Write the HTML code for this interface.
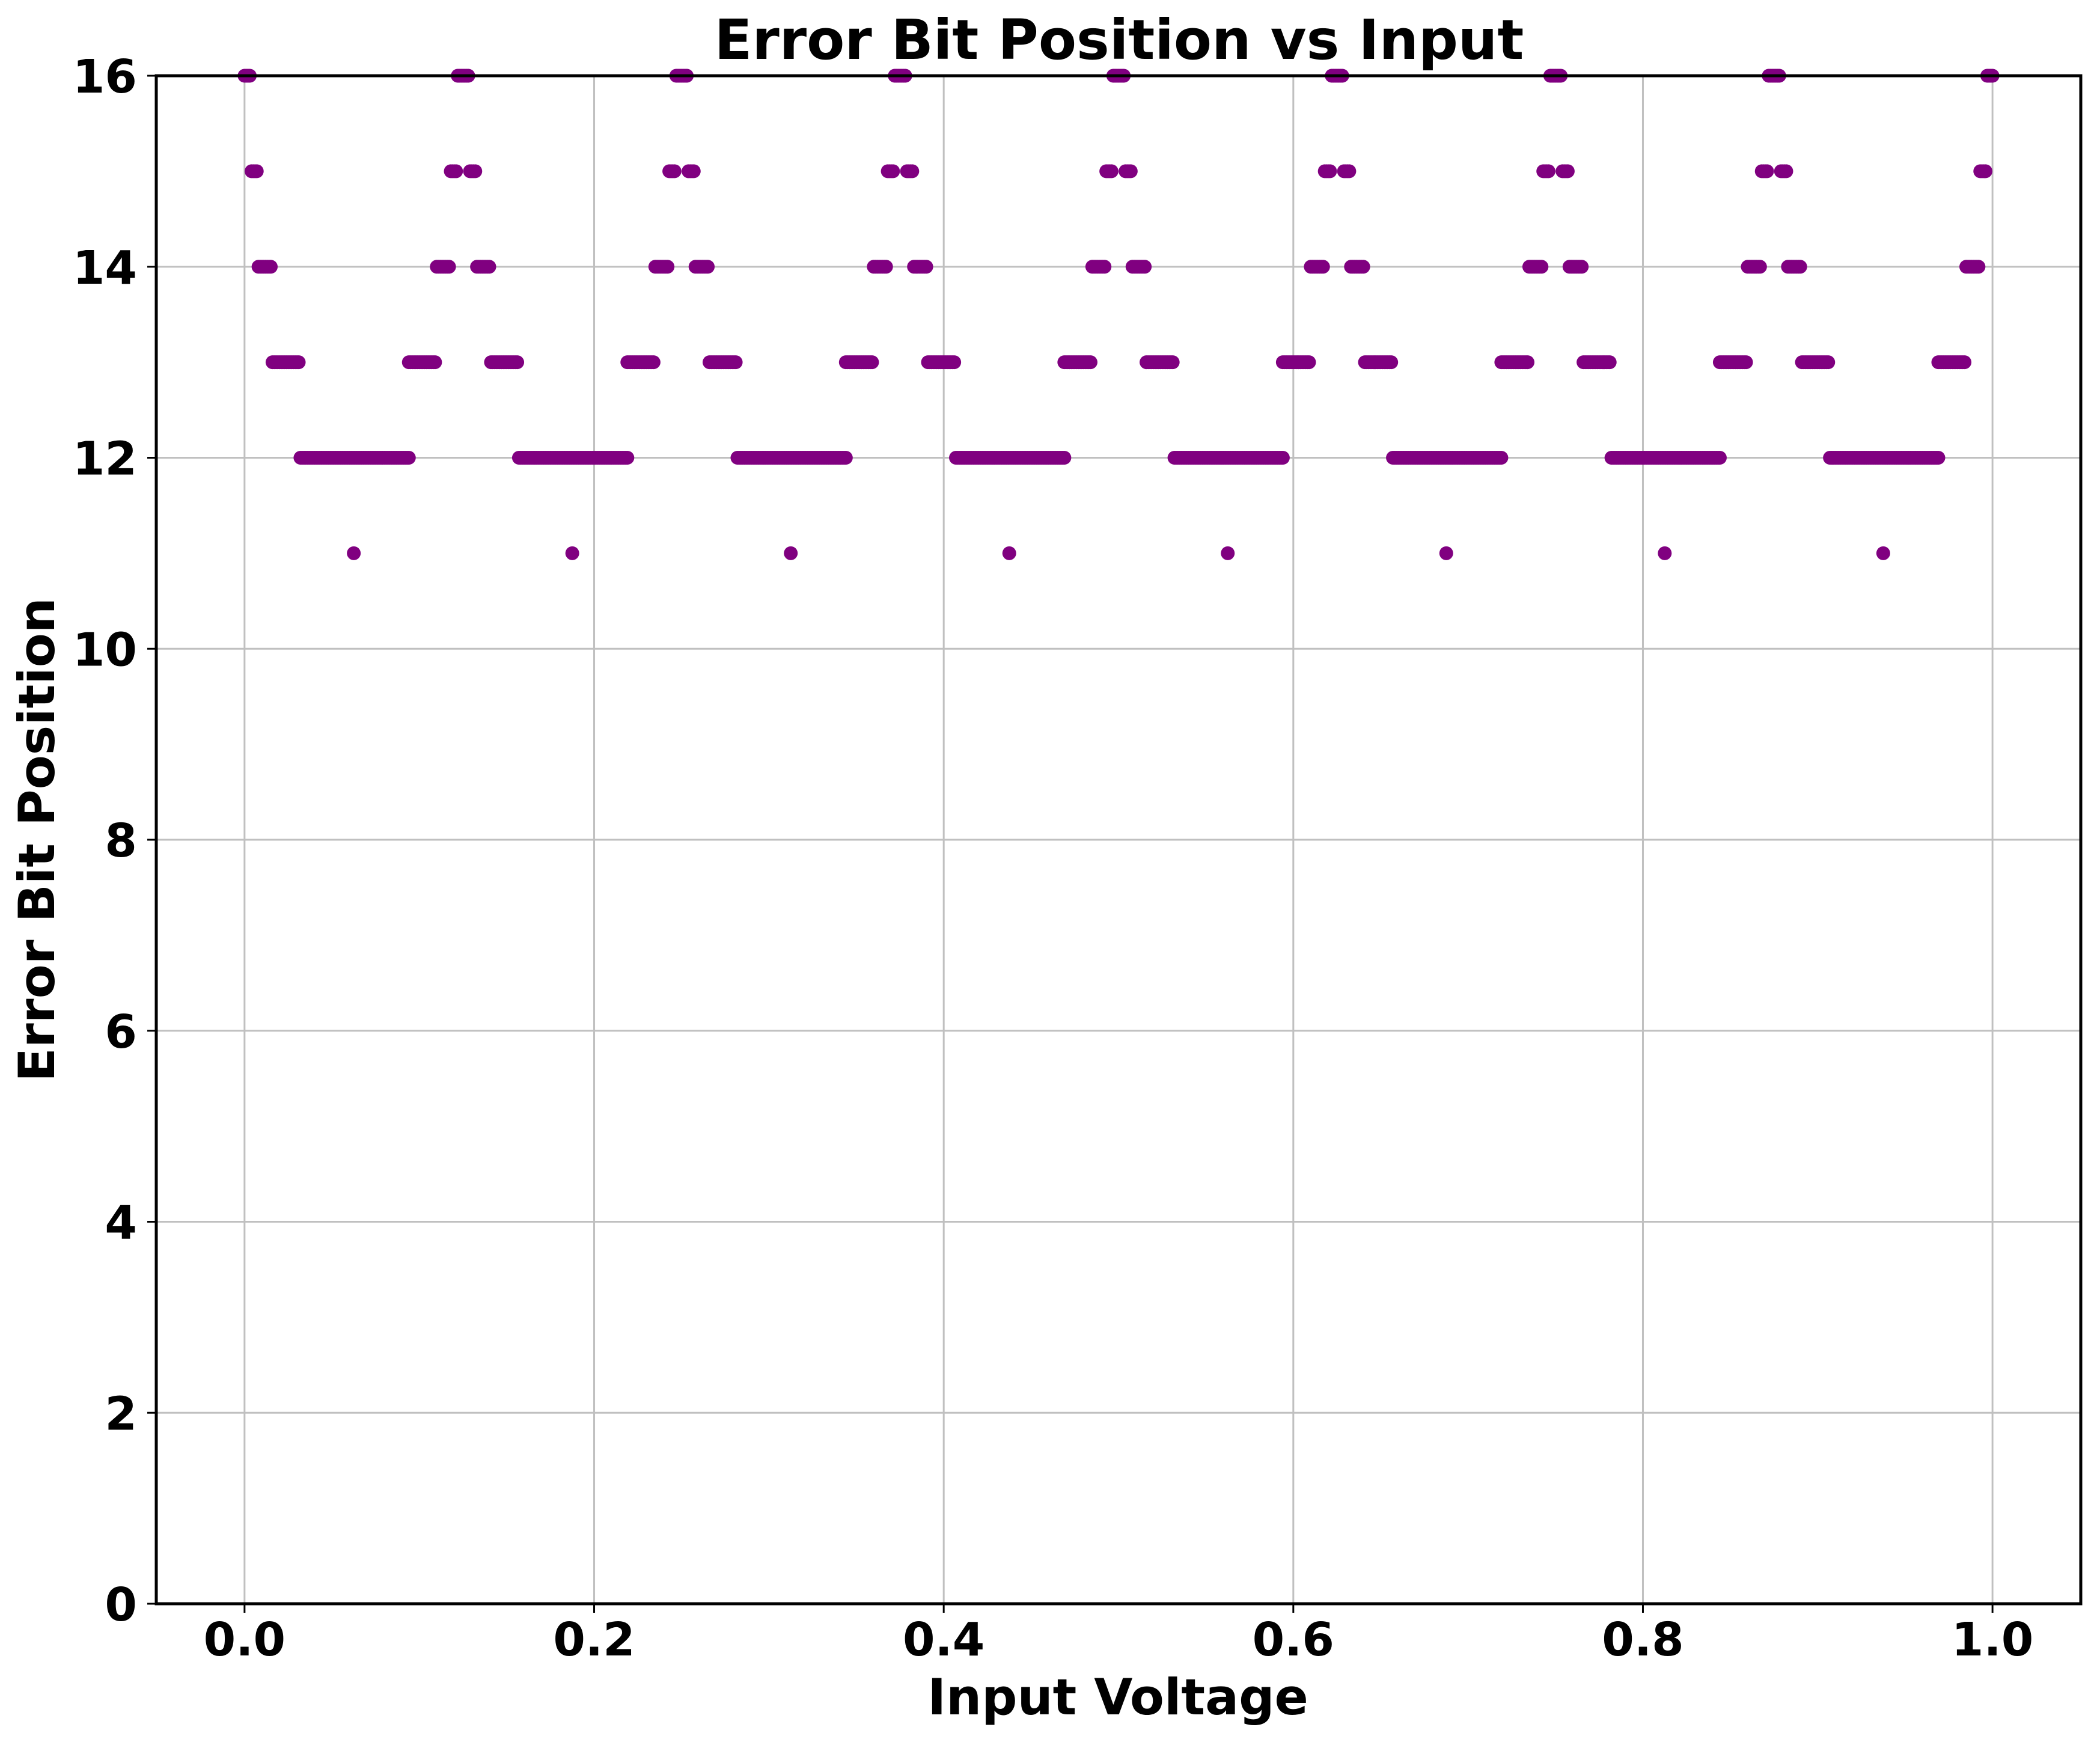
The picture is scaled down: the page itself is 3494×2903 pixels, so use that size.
<!DOCTYPE html>
<html><head><meta charset="utf-8"><style>
html,body{margin:0;padding:0;background:#fff}
svg text{font-family:"DejaVu Sans","Liberation Sans",sans-serif;font-weight:bold;fill:#000}
</style></head><body>
<svg id="chart" xmlns="http://www.w3.org/2000/svg" width="3494" height="2898" viewBox="0 0 3494 2898">
<rect width="3494" height="2898" fill="#fff"/>
<g id="grid"></g>
<g id="points"></g>
<g id="axes"></g>
<text x="1862" y="98" font-size="92" text-anchor="middle">Error Bit Position vs Input</text>
<text x="1860" y="2852" font-size="83" text-anchor="middle">Input Voltage</text>
<text transform="translate(90,1397) rotate(-90)" font-size="83" text-anchor="middle">Error Bit Position</text>
</svg>
<script>
// data: one period template of runs (offset from period center), repeated at period centers
const periodCenters = [0, 0.125, 0.25, 0.375, 0.5, 0.625, 0.75, 0.875, 1.0];
const runLo  = [-0.003, -0.007, 0.004, -0.015, 0.008, -0.031, 0.016, 0.032, 0.0625];
const runHi  = [ 0.0035,-0.004, 0.007, -0.008, 0.015, -0.016, 0.031, 0.094, 0.0625];
const runVal = [16, 15, 15, 14, 14, 13, 13, 12, 11];
const xTicks = [0.0, 0.2, 0.4, 0.6, 0.8, 1.0];
const xTickLabels = ["0.0", "0.2", "0.4", "0.6", "0.8", "1.0"];
const yTicks = [0, 2, 4, 6, 8, 10, 12, 14, 16];
const yTickLabels = ["0", "2", "4", "6", "8", "10", "12", "14", "16"];

const NS = "http://www.w3.org/2000/svg";
const L = 260, R = 3462, T = 126, B = 2668;
const X0 = -0.0505, X1 = 1.0505, Y0 = 0, Y1 = 16;
const sx = v => L + (v - X0) / (X1 - X0) * (R - L);
const sy = v => B - (v - Y0) / (Y1 - Y0) * (B - T);
function mk(tag, attrs, parent) {
  const e = document.createElementNS(NS, tag);
  for (const k in attrs) e.setAttribute(k, attrs[k]);
  parent.appendChild(e);
  return e;
}
const grid = document.getElementById('grid');
const axes = document.getElementById('axes');
const pts = document.getElementById('points');

xTicks.forEach((v, i) => {
  const g = mk('line', {x1: sx(v), x2: sx(v), y1: T, y2: B, stroke: '#c0c0c0', 'stroke-width': 3}, grid);
  
  
  const t = mk('line', {x1: sx(v), x2: sx(v), y1: B, y2: B + 15, stroke: '#000', 'stroke-width': 3}, axes);
  
  
  const lb = mk('text', {x: sx(v), y: B + 86, 'font-size': 77, 'text-anchor': 'middle'}, axes);
  lb.textContent = xTickLabels[i];
  
  
});
yTicks.forEach((v, i) => {
  const g = mk('line', {x1: L, x2: R, y1: sy(v), y2: sy(v), stroke: '#c0c0c0', 'stroke-width': 3}, grid);
  
  
  const t = mk('line', {x1: L - 15, x2: L, y1: sy(v), y2: sy(v), stroke: '#000', 'stroke-width': 3}, axes);
  
  
  const lb = mk('text', {x: L - 32, y: sy(v) + 28, 'font-size': 77, 'text-anchor': 'end'}, axes);
  lb.textContent = yTickLabels[i];
  
  
});
const frame = mk('rect', {x: L, y: T, width: R - L, height: B - T, fill: 'none', stroke: '#000', 'stroke-width': 5}, axes);



const step = 0.001;
periodCenters.forEach(c => {
  runLo.forEach((lo, j) => {
    const a = Math.max(0, c + lo), b = Math.min(1, c + runHi[j]);
    if (b < a) return;
    for (let x = a; x <= b + 1e-9; x += step) {
      const p = mk('circle', {cx: sx(x), cy: sy(runVal[j]), r: 11.5, fill: '#800080'}, pts);
      
      
    }
  });
});
</script>
</body></html>
